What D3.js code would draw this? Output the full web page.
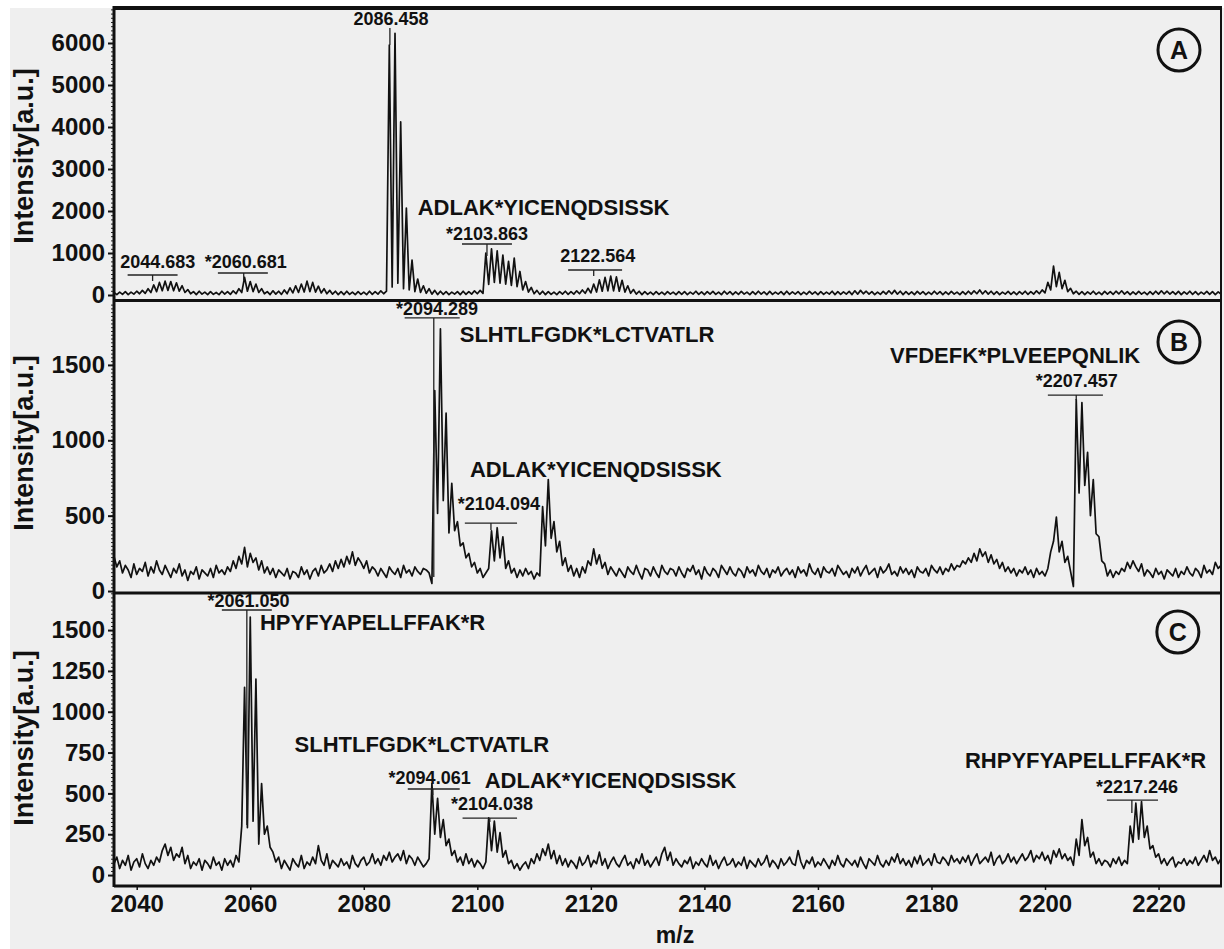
<!DOCTYPE html>
<html><head><meta charset="utf-8">
<script src="https://cdn.jsdelivr.net/npm/d3@7"></script>
<style>
html,body{margin:0;padding:0;background:#fff;}
svg{display:block;}
text{font-family:"Liberation Sans",Arial,sans-serif;font-weight:bold;fill:#111;}
</style></head><body>
<svg id="chart" width="1224" height="949"></svg>
<script>
const mzStart = 2036, mzStep = 0.5;
const xDomain = [2036, 2231];
const xTicks = [2040, 2060, 2080, 2100, 2120, 2140, 2160, 2180, 2200, 2220];

// Panel A intensities (a.u.)
const intensityA = [
 60,10,70,15,80,10,70,20,90,30,110,40,150,60,240,80,300,100,330,110,
 320,100,290,90,220,60,130,30,80,10,90,20,70,10,80,15,60,10,90,20,
 80,15,100,30,150,60,420,90,320,80,260,60,150,30,80,10,100,20,90,15,
 120,30,170,50,220,60,260,70,330,80,300,70,210,50,150,30,110,20,90,10,
 80,10,90,15,70,10,80,15,70,10,90,15,80,20,100,30,90,5950,190,6230,
 280,4120,150,2070,120,830,80,380,60,220,40,150,20,110,10,90,15,80,10,70,
 20,80,10,90,15,80,20,100,30,110,40,1000,250,1100,300,1050,280,950,260,800,
 230,880,200,560,120,320,70,180,30,110,15,90,10,80,15,70,10,80,20,90,
 15,80,20,100,30,120,40,160,50,260,70,360,90,420,100,450,100,430,90,350,
 70,220,40,130,20,90,10,80,15,70,10,80,15,70,10,80,20,70,10,80,
 15,80,10,70,20,90,15,75,10,80,20,85,15,70,10,90,20,80,10,75,
 15,85,20,70,10,80,15,90,20,75,10,85,15,70,20,80,10,90,15,75,
 20,80,10,70,15,85,20,75,10,80,15,70,20,90,10,80,15,75,20,85,
 10,100,20,110,30,90,20,80,10,70,15,85,20,100,25,110,20,90,10,80,
 15,75,10,85,20,80,10,70,15,90,20,80,10,75,15,85,20,70,10,80,
 15,90,20,100,30,120,25,100,20,90,15,80,10,70,20,85,15,75,10,80,
 20,90,15,80,20,100,30,120,50,300,120,690,200,540,150,350,80,160,30,90,
 15,80,10,75,20,90,15,70,10,85,20,80,15,90,25,100,20,80,10,75,
 15,85,20,70,10,80,15,90,20,100,25,90,20,80,15,85,10,75,20,90,
 15,80,10,70,20,85,15,80,10,75,20
];
// Panel B intensities (a.u.)
const intensityB = [
 230,160,200,120,170,140,90,180,110,150,130,190,100,160,120,200,140,110,170,130,
 90,150,120,180,100,140,70,130,110,160,80,140,120,100,150,90,170,120,140,110,
 160,130,200,150,230,180,290,160,250,190,220,140,200,120,160,110,150,90,140,120,
 100,150,80,130,120,90,160,110,140,80,130,150,100,170,120,140,180,130,200,150,
 210,160,230,180,260,170,220,190,150,200,120,160,140,100,150,120,90,160,130,110,
 150,90,170,120,140,100,160,130,110,150,140,120,50,1330,515,1740,600,1180,385,715,
 400,460,300,320,220,250,160,190,120,150,90,120,150,400,200,420,220,360,150,200,
 120,150,90,140,100,150,110,130,80,120,100,560,300,740,350,460,260,330,170,220,
 130,170,100,150,90,160,120,200,170,280,180,240,150,190,110,160,130,100,150,120,
 90,160,130,110,170,120,80,150,140,100,160,120,90,170,130,110,150,140,100,160,
 120,90,150,130,170,110,140,80,160,120,100,150,130,90,170,140,110,160,120,100,
 150,130,90,160,120,140,100,170,130,110,150,90,140,120,160,100,130,150,110,140,
 90,160,120,140,100,180,130,110,150,90,160,130,120,150,100,170,140,110,130,90,
 150,120,160,100,140,170,110,130,150,90,160,120,140,180,110,130,100,160,120,150,
 110,140,90,160,130,120,150,100,170,140,120,160,110,150,130,180,140,170,160,200,
 180,220,190,250,200,280,230,260,190,240,180,210,150,190,130,160,120,150,100,140,
 120,160,110,140,90,150,110,130,100,150,260,330,490,260,330,190,230,130,30,1270,
 650,1250,700,920,500,740,380,360,200,180,100,140,90,130,110,150,130,190,150,200,
 160,130,180,100,140,120,90,150,110,130,80,140,120,100,150,90,130,110,160,120,
 100,150,130,90,170,120,140,110,190,150,170
];
// Panel C intensities (a.u.)
const intensityC = [
 70,110,40,90,60,120,30,80,100,50,130,70,40,90,60,110,80,150,190,120,
 170,90,130,110,170,70,120,40,80,60,100,30,90,70,40,110,60,80,30,100,
 60,90,50,120,80,300,1150,290,1580,330,1200,190,560,250,300,170,140,80,110,40,
 90,60,30,100,70,50,120,40,80,60,110,70,180,90,60,130,40,90,70,50,
 100,60,80,40,120,70,50,90,110,60,80,130,70,100,60,120,90,140,80,110,
 130,90,150,70,120,100,60,110,80,50,70,100,560,250,470,230,340,180,220,120,
 150,80,110,60,130,70,100,50,90,70,40,80,350,150,330,140,260,110,150,70,
 90,40,70,30,60,80,40,100,70,130,90,160,120,190,100,150,70,120,60,100,
 50,90,70,40,110,60,80,120,50,90,70,140,60,100,40,80,110,70,50,90,
 120,60,80,40,100,70,130,60,90,50,80,110,60,130,170,90,140,60,100,70,
 50,90,70,110,40,80,60,100,70,50,120,60,90,40,80,110,60,70,100,50,
 80,60,110,40,90,70,50,100,60,80,120,50,90,70,40,100,60,80,110,70,
 60,150,80,40,90,70,110,50,80,60,100,70,40,90,60,120,70,50,100,80,
 60,90,50,110,70,40,100,80,60,120,70,50,90,60,110,80,130,70,100,60,
 90,50,110,70,120,60,80,100,60,130,80,70,110,90,60,120,80,100,70,110,
 80,120,60,100,130,70,90,110,80,140,60,100,120,70,90,130,80,110,70,100,
 130,90,110,150,80,120,100,140,90,120,70,150,110,160,100,130,90,110,60,220,
 120,340,180,230,110,140,70,100,60,90,80,50,100,70,110,60,90,70,300,200,
 440,220,450,230,300,160,180,110,130,70,100,60,90,110,50,80,70,100,60,90,
 70,110,60,90,120,80,150,90,110,70,100
];

const yDomainA = [-119, 6833], yTicksA = [0,1000,2000,3000,4000,5000,6000];
const yDomainB = [-13, 1924],  yTicksB = [0,500,1000,1500];
const yDomainC = [-67, 1727],  yTicksC = [0,250,500,750,1000,1250,1500];

const massLabelsA = [
 {text:"2044.683", mz:2043.7, v:643, from:2038.4, to:2047.2, lv:476, tmz:2042.8, tv:333},
 {text:"*2060.681", mz:2059.2, v:643, from:2054.3, to:2063.1, lv:524, tmz:2058.85, tv:357},
 {text:"2086.458", mz:2084.8, v:6429, from:2084.6, to:2084.6, lv:6357, tmz:2084.6, tv:5952},
 {text:"*2103.863", mz:2101.7, v:1310, from:2097.3, to:2106.1, lv:1214, tmz:2101.7, tv:929},
 {text:"2122.564", mz:2121.2, v:786, from:2116.0, to:2125.5, lv:595, tmz:2120.5, tv:452}
];
const massLabelsB = [
 {text:"*2094.289", mz:2092.9, v:1831, from:2087.2, to:2096.9, lv:1812, tmz:2092.33, tv:93},
 {text:"*2104.094", mz:2103.8, v:537, from:2097.8, to:2107.0, lv:451, tmz:2102.4, tv:405},
 {text:"*2207.457", mz:2205.6, v:1354, from:2200.5, to:2210.2, lv:1300, tmz:2205.5, tv:1267}
];
const massLabelsC = [
 {text:"*2061.050", mz:2059.7, v:1641, from:2055.0, to:2063.8, lv:1623, tmz:2059.4, tv:306},
 {text:"*2094.061", mz:2091.6, v:557, from:2087.75, to:2096.9, lv:527, tmz:2092.16, tv:490},
 {text:"*2104.038", mz:2102.6, v:398, from:2097.4, to:2107.0, lv:349, tmz:2102.2, tv:325},
 {text:"*2217.246", mz:2216.2, v:502, from:2210.9, to:2219.9, lv:459, tmz:2215.3, tv:380}
];
const sequenceLabelsA = [{text:"ADLAK*YICENQDSISSK", mz:2089.5, v:1905}];
const sequenceLabelsB = [
 {text:"SLHTLFGDK*LCTVATLR", mz:2096.9, v:1652},
 {text:"ADLAK*YICENQDSISSK", mz:2098.7, v:756},
 {text:"VFDEFK*PLVEEPQNLIK", mz:2172.7, v:1513}
];
const sequenceLabelsC = [
 {text:"HPYFYAPELLFFAK*R", mz:2061.7, v:1500},
 {text:"SLHTLFGDK*LCTVATLR", mz:2067.8, v:753},
 {text:"ADLAK*YICENQDSISSK", mz:2101.3, v:533},
 {text:"RHPYFYAPELLFFAK*R", mz:2185.9, v:655}
];
const panelLetters = [
 {letter:"A", mz:2223.6, v:5833},
 {letter:"B", mz:2223.6, v:1652},
 {letter:"C", mz:2223.4, v:1488}
];

const L = 114, R = 1221;
const svg = d3.select("#chart");
svg.append("rect").attr("width",1224).attr("height",949).attr("fill","#fff");
svg.append("rect").attr("x",10).attr("y",8).attr("width",1214).attr("height",941).attr("fill","#efefef");

const x = d3.scaleLinear().domain(xDomain).range([L, R]);

const panels = [
 {data:intensityA, dom:yDomainA, ticks:yTicksA, minor:100, top:8, bottom:300, masses:massLabelsA, seqs:sequenceLabelsA, letter:panelLetters[0], titleY:156},
 {data:intensityB, dom:yDomainB, ticks:yTicksB, minor:25, top:301, bottom:593, masses:massLabelsB, seqs:sequenceLabelsB, letter:panelLetters[1], titleY:443},
 {data:intensityC, dom:yDomainC, ticks:yTicksC, minor:25, top:593, bottom:886, masses:massLabelsC, seqs:sequenceLabelsC, letter:panelLetters[2], titleY:738}
];

const defs = svg.append("defs");
panels.forEach((p, k) => {
  const y = d3.scaleLinear().domain(p.dom).range([p.bottom, p.top]);
  defs.append("clipPath").attr("id","clip"+k).append("rect")
    .attr("x",L).attr("y",p.top).attr("width",R-L).attr("height",p.bottom-p.top);

  const pts = p.data.map((v,i) => [mzStart + i*mzStep, v]);
  svg.append("path").datum(pts)
    .attr("d", d3.line().x(d => x(d[0])).y(d => y(d[1])))
    .attr("fill","none").attr("stroke","#111").attr("stroke-width",1.7)
    .attr("stroke-linejoin","round")
    .attr("clip-path","url(#clip"+k+")");

  // minor ticks
  const minorVals = d3.range(0, p.dom[1], p.minor);
  svg.append("g").attr("transform",`translate(${L},0)`)
    .call(d3.axisLeft(y).tickValues(minorVals).tickSize(3).tickFormat(""))
    .call(g => g.select(".domain").remove())
    .selectAll("line").attr("stroke","#222").attr("stroke-width",1);

  const ax = svg.append("g").attr("transform",`translate(${L},0)`)
    .call(d3.axisLeft(y).tickValues(p.ticks).tickSize(6).tickPadding(3).tickFormat(d3.format("d")));
  ax.select(".domain").remove();
  ax.selectAll("line").attr("stroke","#111").attr("stroke-width",2);
  ax.selectAll("text").attr("font-size",24).attr("font-family","Liberation Sans, Arial, sans-serif")
    .attr("font-weight","bold").attr("fill","#111");

  svg.append("text").attr("transform",`translate(33,${p.titleY}) rotate(-90)`)
    .attr("text-anchor","middle").attr("font-size",27).text("Intensity[a.u.]");

  // mass labels with brackets
  p.masses.forEach(m => {
    svg.append("text").attr("x",x(m.mz)).attr("y",y(m.v)).attr("text-anchor","middle")
      .attr("font-size",18).text(m.text);
    if (m.to > m.from) {
      svg.append("line").attr("x1",x(m.from)).attr("x2",x(m.to)).attr("y1",y(m.lv)).attr("y2",y(m.lv))
        .attr("stroke","#222").attr("stroke-width",1.3);
    }
    svg.append("line").attr("x1",x(m.tmz)).attr("x2",x(m.tmz)).attr("y1",y(m.lv)).attr("y2",y(m.tv))
      .attr("stroke","#222").attr("stroke-width",1.3);
  });
  p.seqs.forEach(s => {
    svg.append("text").attr("x",x(s.mz)).attr("y",y(s.v)).attr("font-size",22).text(s.text);
  });
  const lc = p.letter;
  svg.append("circle").attr("cx",x(lc.mz)).attr("cy",y(lc.v)).attr("r",21)
    .attr("fill","none").attr("stroke","#111").attr("stroke-width",3);
  svg.append("text").attr("x",x(lc.mz)).attr("y",y(lc.v)).attr("dy","0.36em")
    .attr("text-anchor","middle").attr("font-size",25).text(lc.letter);
});

// frame lines
const frame = svg.append("g").attr("stroke","#111");
frame.append("line").attr("x1",L).attr("x2",L).attr("y1",6).attr("y2",887).attr("stroke-width",3);
frame.append("line").attr("x1",L-1).attr("x2",R+1).attr("y1",8).attr("y2",8).attr("stroke-width",4);
frame.append("line").attr("x1",L).attr("x2",R).attr("y1",300.5).attr("y2",300.5).attr("stroke-width",3);
frame.append("line").attr("x1",L).attr("x2",R).attr("y1",593).attr("y2",593).attr("stroke-width",3);
frame.append("line").attr("x1",L).attr("x2",R+1).attr("y1",886).attr("y2",886).attr("stroke-width",3);
frame.append("line").attr("x1",R).attr("x2",R).attr("y1",8).attr("y2",886).attr("stroke-width",2);

const xa = svg.append("g").attr("transform","translate(0,886)")
  .call(d3.axisBottom(x).tickValues(xTicks).tickSize(4).tickPadding(5).tickFormat(d3.format("d")));
xa.select(".domain").remove();
xa.selectAll("line").attr("stroke","#111").attr("stroke-width",1.5);
xa.selectAll("text").attr("font-size",24).attr("font-family","Liberation Sans, Arial, sans-serif")
  .attr("font-weight","bold").attr("fill","#111");

svg.append("text").attr("x",675).attr("y",943).attr("text-anchor","middle").attr("font-size",23).text("m/z");
</script>
</body></html>
